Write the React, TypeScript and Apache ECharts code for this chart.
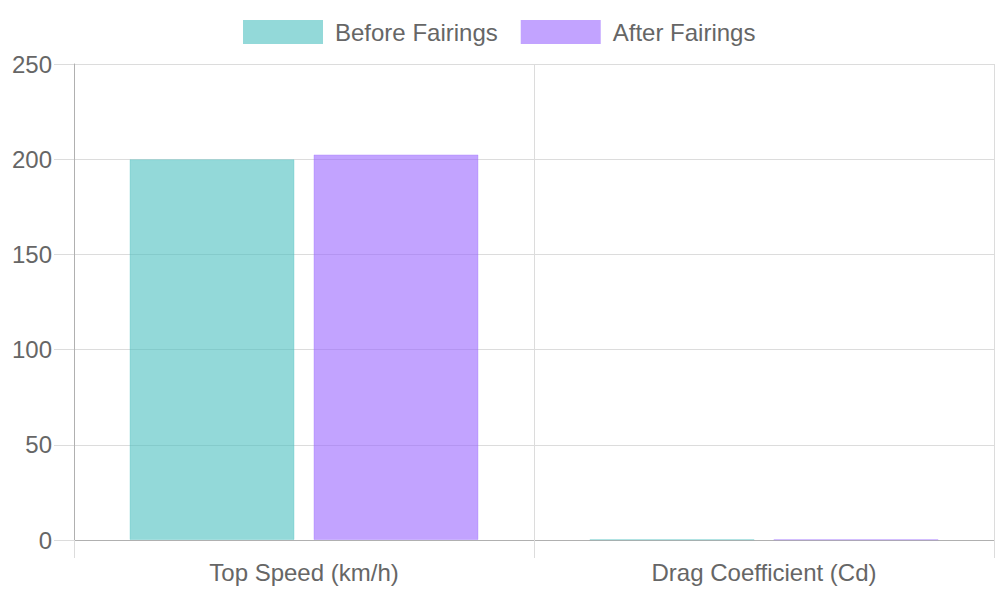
import React, { useEffect, useRef } from "react";
import * as echarts from "echarts";

const categories = ["Top Speed (km/h)", "Drag Coefficient (Cd)"];
const seriesNames = ["Before Fairings", "After Fairings"];
const beforeValues = [200, 0.35];
const afterValues = [202.5, 0.3];
const yTicks = { min: 0, max: 250, interval: 50 };

const TEXT = "#666666";
const GRID = "#dcdcdc";
const AXIS = "#b0b0b0";
const FONT = "Liberation Sans, Arial, sans-serif";

export default function App() {
  const ref = useRef<HTMLDivElement>(null);
  useEffect(() => {
    if (!ref.current) return;
    const chart = echarts.init(ref.current, undefined, { renderer: "svg" });
    chart.setOption({
      animation: false,
      textStyle: { fontFamily: FONT },
      legend: {
        top: 15,
        left: 238,
        itemWidth: 80,
        itemHeight: 24,
        itemGap: 23,
        icon: "rect",
        itemStyle: { borderWidth: 0 },
        textStyle: { color: TEXT, fontSize: 24, fontFamily: FONT, padding: [0, 0, 0, 7] },
        data: seriesNames,
      },
      grid: { left: 74, right: 6, top: 64, bottom: 60, containLabel: false },
      xAxis: {
        type: "category",
        data: categories,
        boundaryGap: true,
        axisLine: { show: true, lineStyle: { color: AXIS, width: 1 } },
        axisTick: { show: true, length: 18, alignWithLabel: false, lineStyle: { color: GRID } },
        splitLine: { show: true, lineStyle: { color: GRID, width: 1 } },
        axisLabel: { color: TEXT, fontSize: 24, fontFamily: FONT, margin: 20 },
      },
      yAxis: {
        type: "value",
        min: yTicks.min,
        max: yTicks.max,
        interval: yTicks.interval,
        axisLine: { show: true, lineStyle: { color: AXIS, width: 1 } },
        axisTick: { show: true, length: 20, lineStyle: { color: GRID } },
        splitLine: { show: true, lineStyle: { color: GRID, width: 1 } },
        axisLabel: { color: TEXT, fontSize: 24, fontFamily: FONT, margin: 22 },
      },
      series: [
        {
          name: seriesNames[0],
          type: "bar",
          data: beforeValues,
          barWidth: 165,
          barGap: "11.5%",
          itemStyle: { color: "rgba(75,192,192,0.6)", borderColor: "rgba(75,192,192,0.3)", borderWidth: 1 },
        },
        {
          name: seriesNames[1],
          type: "bar",
          data: afterValues,
          barWidth: 165,
          barGap: "11.5%",
          itemStyle: { color: "rgba(153,102,255,0.6)", borderColor: "rgba(153,102,255,0.3)", borderWidth: 1 },
        },
      ],
    });
    return () => chart.dispose();
  }, []);
  return (
    <div
      ref={ref}
      style={{ position: "fixed", left: 0, top: 0, width: 1000, height: 600, background: "#fff" }}
    />
  );
}
